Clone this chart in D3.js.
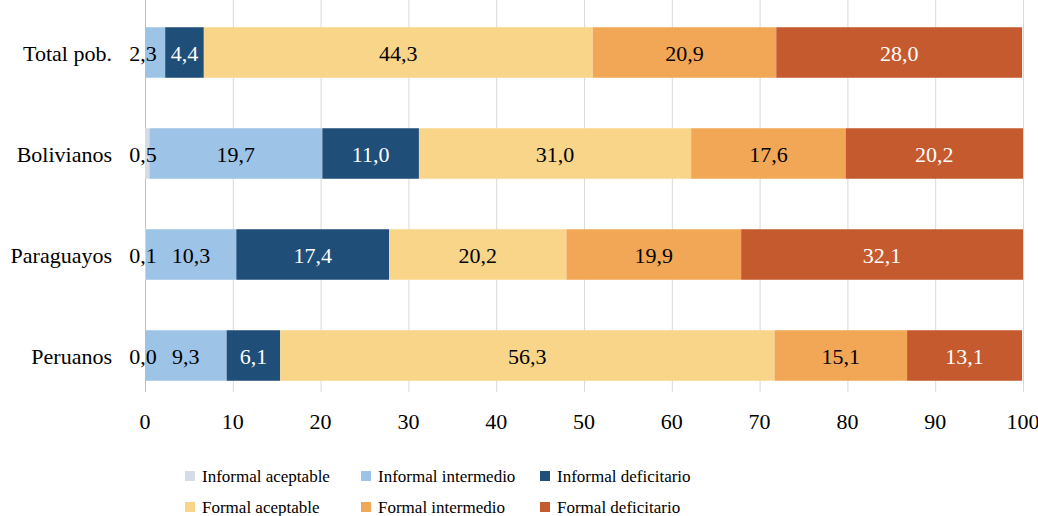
<!DOCTYPE html>
<html>
<head>
<meta charset="utf-8">
<script src="https://cdn.jsdelivr.net/npm/d3@7"></script>
<style>
  body { margin: 0; background: #fff; }
  text { font-family: "Liberation Serif", "DejaVu Serif", serif; }
</style>
</head>
<body>
<div id="chart"></div>
<script>
// categories and series (values in %)
var categories = ["Total pob.", "Bolivianos", "Paraguayos", "Peruanos"];
var seriesNames = ["Informal aceptable", "Informal intermedio", "Informal deficitario",
                   "Formal aceptable", "Formal intermedio", "Formal deficitario"];
var seriesColors = ["#d6dce5", "#9dc3e6", "#1f4e79", "#f9d58a", "#f2a757", "#c55a2e"];
var informalAceptable = [null, 0.5, 0.1, 0.0];
var informalIntermedio = [2.3, 19.7, 10.3, 9.3];
var informalDeficitario = [4.4, 11.0, 17.4, 6.1];
var formalAceptable = [44.3, 31.0, 20.2, 56.3];
var formalIntermedio = [20.9, 17.6, 19.9, 15.1];
var formalDeficitario = [28.0, 20.2, 32.1, 13.1];
var xTicks = [0, 10, 20, 30, 40, 50, 60, 70, 80, 90, 100];

var seriesValues = [informalAceptable, informalIntermedio, informalDeficitario,
                    formalAceptable, formalIntermedio, formalDeficitario];

var rows = categories.map(function (c, i) {
  var r = { cat: c };
  seriesNames.forEach(function (s, j) { r[s] = seriesValues[j][i]; });
  return r;
});

var W = 1038, H = 516;
var margin = { top: 0, left: 145, right: 15 };

var svg = d3.select("#chart").append("svg")
  .attr("width", W).attr("height", H);

var x = d3.scaleLinear().domain([0, 100]).range([margin.left, W - margin.right]);
var y = d3.scaleBand().domain(categories).range([2, 406])
  .paddingInner(0.5).paddingOuter(0.25);

var gridBottom = 392;

// vertical grid lines
svg.append("g").selectAll("line")
  .data(xTicks)
  .enter().append("line")
  .attr("x1", function (d) { return x(d) + 0.5; })
  .attr("x2", function (d) { return x(d) + 0.5; })
  .attr("y1", 0).attr("y2", gridBottom)
  .attr("stroke", function (d) { return d === 0 ? "#bfc3c9" : "#d9d9d9"; })
  .attr("stroke-width", 1);

// stacked bars
var stack = d3.stack().keys(seriesNames)
  .value(function (d, k) { return d[k] == null ? 0 : d[k]; });
var layers = stack(rows);

var layerG = svg.append("g").selectAll("g")
  .data(layers)
  .enter().append("g")
  .attr("fill", function (d, i) { return seriesColors[i]; });

layerG.selectAll("rect")
  .data(function (d) { return d; })
  .enter().append("rect")
  .attr("x", function (d) { return x(d[0]); })
  .attr("width", function (d) { return x(d[1]) - x(d[0]); })
  .attr("y", function (d) { return y(d.data.cat); })
  .attr("height", y.bandwidth());

// value labels
var fmt = function (v) { return d3.format(".1f")(v).replace(".", ","); };
layers.forEach(function (layer, i) {
  svg.append("g").selectAll("text")
    .data(layer.filter(function (d) { return d.data[layer.key] != null; }))
    .enter().append("text")
    .attr("x", function (d) {
      var v = d.data[layer.key];
      if (v < 3) return x(0) - 2;
      return (x(d[0]) + x(d[1])) / 2;
    })
    .attr("y", function (d) { return y(d.data.cat) + y.bandwidth() / 2 + 8; })
    .attr("text-anchor", "middle")
    .attr("font-size", 22)
    .attr("fill", function (d) {
      var v = d.data[layer.key];
      return (v >= 3 && (i === 2 || i === 5)) ? "#ffffff" : "#000000";
    })
    .text(function (d) { return fmt(d.data[layer.key]); });
});

// category labels
svg.append("g").selectAll("text")
  .data(categories)
  .enter().append("text")
  .attr("x", 112)
  .attr("y", function (d) { return y(d) + y.bandwidth() / 2 + 8; })
  .attr("text-anchor", "end")
  .attr("font-size", 22)
  .attr("fill", "#000")
  .text(function (d) { return d; });

// x tick labels
svg.append("g").selectAll("text")
  .data(xTicks)
  .enter().append("text")
  .attr("x", function (d) { return x(d); })
  .attr("y", 429)
  .attr("text-anchor", "middle")
  .attr("font-size", 22)
  .attr("fill", "#000")
  .text(function (d) { return d; });

// legend
var legX = [185, 361, 540];
var legY = [476, 507];
var leg = svg.append("g").selectAll("g")
  .data(seriesNames)
  .enter().append("g")
  .attr("transform", function (d, i) {
    return "translate(" + legX[i % 3] + "," + legY[Math.floor(i / 3)] + ")";
  });
leg.append("rect")
  .attr("x", 0).attr("y", -5)
  .attr("width", 10).attr("height", 10)
  .attr("fill", function (d, i) { return seriesColors[i]; });
leg.append("text")
  .attr("x", 17).attr("y", 6)
  .attr("font-size", 17)
  .attr("fill", "#000")
  .text(function (d) { return d; });
</script>
</body>
</html>
